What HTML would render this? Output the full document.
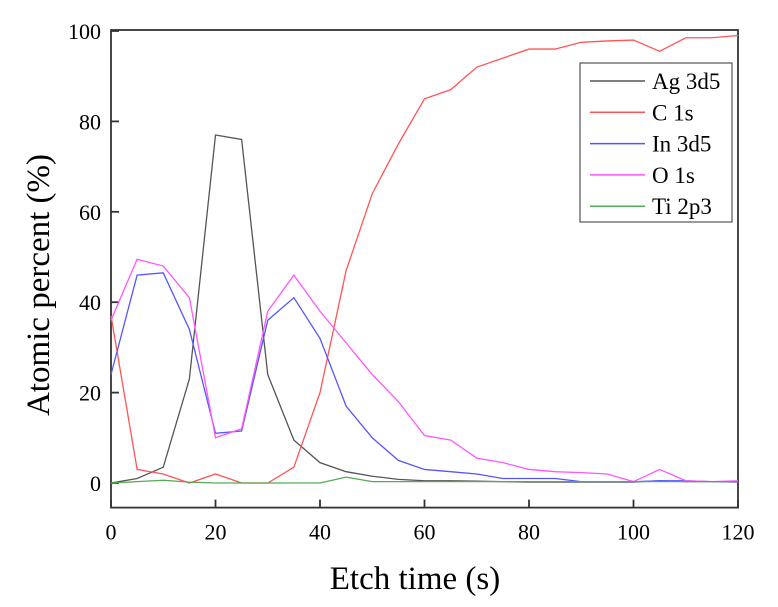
<!DOCTYPE html>
<html><head><meta charset="utf-8"><style>
body{margin:0;background:#fff;}
svg{display:block;font-family:"Liberation Serif",serif;}
</style></head><body>
<svg id="chart" width="778" height="607"></svg>
<script>
const times=[0,5,10,15,20,25,30,35,40,45,50,55,60,65,70,75,80,85,90,95,100,105,110,115,120];
const ag=[0,1,3.5,23,77,76,24,9.5,4.5,2.5,1.5,0.8,0.5,0.5,0.4,0.3,0.2,0.2,0.2,0.2,0.2,0.5,0.3,0.3,0.3];
const c1s=[37,3,2,0,2,0,0,3.5,20,47,64,75,85,87,92,94,96,96,97.5,97.8,98,95.5,98.5,98.5,99];
const in3d5=[24,46,46.5,34,11,11.5,36,41,32,17,10,5,3,2.5,2,1,1,1,0.3,0.3,0.3,0.5,0.5,0.3,0.2];
const o1s=[36,49.5,48,41,10,12,38,46,38,31,24,18,10.5,9.5,5.5,4.5,3,2.5,2.3,2,0.3,3,0.5,0.3,0.5];
const ti=[0,0.3,0.6,0.2,0,0,0,0,0,1.3,0.3,0.3,0.3,0.3,0.3,0.3,0.3,0.3,0.3,0.3,0.3,0.3,0.3,0.3,0.3];
const seriesNames=["Ag 3d5","C 1s","In 3d5","O 1s","Ti 2p3"];
const xTicks=[0,20,40,60,80,100,120];
const yTicks=[0,20,40,60,80,100];
const colors=["#555","#ff5555","#5555ff","#ff55ff","#55aa55"];
const X0=111,X1=738,YT=31,YB=483;
const sx=v=>X0+(v-0)/(120)*(X1-X0);
const sy=v=>YB-(v)/100*(YB-YT);
const NS="http://www.w3.org/2000/svg";
const svg=document.getElementById('chart');
function mk(t,a,p){const e=document.createElementNS(NS,t);for(const k in a)e.setAttribute(k,a[k]);(p||svg).appendChild(e);return e;}
const frameTop=sy(100)-1,frameBot=sy(-5)+2;
const fr=mk('rect',{x:X0,y:frameTop,width:X1-X0,height:frameBot-frameTop,fill:'none',stroke:'#333','stroke-width':1.8});


xTicks.forEach(t=>{
  const l=mk('line',{x1:sx(t),x2:sx(t),y1:frameBot,y2:frameBot-8,stroke:'#333','stroke-width':1.8});
  
  
  const tx=mk('text',{x:sx(t),y:frameBot+32,'text-anchor':'middle','font-size':22});
  tx.textContent=t;
  
  
});
yTicks.forEach(t=>{
  const l=mk('line',{x1:X0,x2:X0+8,y1:sy(t),y2:sy(t),stroke:'#333','stroke-width':1.8});
  
  
  const tx=mk('text',{x:X0-10,y:sy(t)+8,'text-anchor':'end','font-size':22});
  tx.textContent=t;
  
  
});
[ag,c1s,in3d5,o1s,ti].forEach((s,i)=>{
  const p=mk('polyline',{points:s.map((v,j)=>sx(times[j])+','+sy(v)).join(' '),fill:'none',stroke:colors[i],'stroke-width':1.3});
  
  
});
const lg=mk('rect',{x:580,y:63,width:152,height:159,fill:'#fff',stroke:'#555','stroke-width':1.2});


seriesNames.forEach((n,i)=>{
  const y=81+i*31.3;
  const l=mk('line',{x1:590,x2:645,y1:y,y2:y,stroke:colors[i],'stroke-width':1.5});
  
  
  const t=mk('text',{x:652,y:y+8,'font-size':23});
  t.textContent=n;
  
  
});
const xt=mk('text',{x:415,y:589,'text-anchor':'middle','font-size':33});
xt.textContent='Etch time (s)';


const yt=mk('text',{x:0,y:0,'text-anchor':'middle','font-size':33,transform:'translate(49,285) rotate(-90)'});
yt.textContent='Atomic percent (%)';


</script>
</body></html>
